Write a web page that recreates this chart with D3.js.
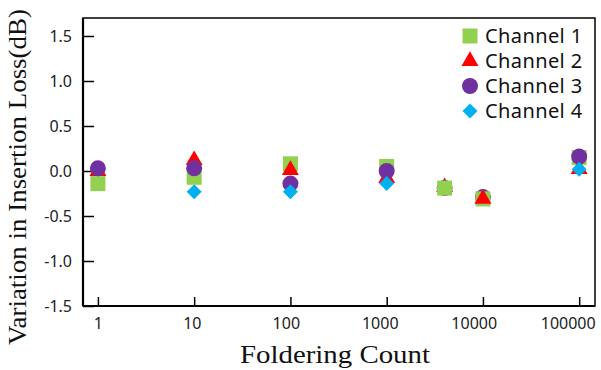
<!DOCTYPE html>
<html>
<head>
<meta charset="utf-8">
<script src="https://cdn.jsdelivr.net/npm/d3@7"></script>
<style>
  html, body { margin: 0; padding: 0; background: #fff; }
  svg { display: block; }
</style>
</head>
<body>
<div id="chart"></div>
<script>
// Folding counts (x positions) and insertion loss variation per channel
const counts = [1, 10, 100, 1000, 4000, 10000, 100000];
const channel1 = [-0.14, -0.07, 0.08, 0.05, -0.19, -0.31, 0.15];
const channel2 = [0.00, 0.12, 0.01, -0.08, -0.18, -0.31, 0.02];
const channel3 = [0.03, 0.03, -0.14, 0.00, -0.19, -0.29, 0.16];
const channel4 = [-0.13, -0.23, -0.23, -0.14, -0.19, -0.30, 0.02];
const seriesNames = ['Channel 1', 'Channel 2', 'Channel 3', 'Channel 4'];
const xTicks = [1, 10, 100, 1000, 10000, 100000];
const yTicks = [-1.5, -1.0, -0.5, 0.0, 0.5, 1.0, 1.5];

// which channel is painted over which, per folding count (bottom -> top)
const layerOrder = [
  [3, 0, 1, 2], [3, 1, 0, 2], [0, 1, 2, 3], [0, 1, 2, 3],
  [1, 2, 3, 0], [2, 3, 0, 1], [0, 1, 2, 3]
];

const colors = ['#92d050', '#ff0000', '#7030a0', '#00b0f0'];
const symbols = [
  { type: d3.symbolSquare, size: 225, rot: 0 },
  { type: d3.symbolTriangle, size: 125, rot: 0 },
  { type: d3.symbolCircle, size: 201, rot: 0 },
  { type: d3.symbolSquare, size: 112, rot: 45 }
];

const width = 601, height = 370;
const margin = { top: 18, right: 6, bottom: 64, left: 83 };
const innerW = width - margin.left - margin.right;
const innerH = height - margin.top - margin.bottom;

const x = d3.scaleLog().domain([0.7, 146000]).range([0, innerW]);
const y = d3.scaleLinear().domain([-1.5, 1.7]).range([innerH, 0]);

const svg = d3.select('#chart').append('svg')
  .attr('width', width)
  .attr('height', height);

const g = svg.append('g')
  .attr('transform', `translate(${margin.left}, ${margin.top})`);

// frame (top and right)
g.append('rect')
  .attr('x', 0).attr('y', 0)
  .attr('width', innerW).attr('height', innerH)
  .attr('fill', 'none')
  .attr('stroke', '#000')
  .attr('stroke-width', 1.5);

const tickFont = '"Noto Sans", "Open Sans", sans-serif';
const titleFont = '"Liberation Serif", "Times New Roman", serif';

const xAxis = g.append('g')
  .attr('transform', `translate(0, ${innerH})`)
  .call(d3.axisBottom(x).tickValues(xTicks).tickFormat(d3.format('d'))
    .tickSizeInner(-9).tickSizeOuter(0).tickPadding(12));

const yAxis = g.append('g')
  .call(d3.axisLeft(y).tickValues(yTicks).tickFormat(d => d.toFixed(1))
    .tickSizeInner(-11).tickSizeOuter(0).tickPadding(11));

[xAxis, yAxis].forEach(a => {
  a.select('.domain').attr('stroke', '#000').attr('stroke-width', 2.2);
  a.selectAll('.tick line').attr('stroke', '#000').attr('stroke-width', 1.5);
  a.selectAll('.tick text')
    .attr('fill', '#222')
    .style('font-family', tickFont)
    .style('font-size', '16px');
});
// wide labels sit a little left of their tick, as in the original
xAxis.selectAll('.tick text')
  .attr('dx', d => -(String(d).length - 1) * 2.3);

yAxis.select('.domain').attr('d', `M0,0V${innerH}`);
xAxis.select('.domain').attr('d', `M0,0H${innerW}`);

// axis titles
svg.append('text')
  .attr('x', 335)
  .attr('y', 363)
  .attr('text-anchor', 'middle')
  .attr('textLength', 190)
  .attr('lengthAdjust', 'spacingAndGlyphs')
  .style('font-family', titleFont)
  .style('font-size', '26px')
  .attr('fill', '#111')
  .text('Foldering Count');

svg.append('text')
  .attr('transform', 'translate(26, 177) rotate(-90)')
  .attr('text-anchor', 'middle')
  .attr('textLength', 336)
  .attr('lengthAdjust', 'spacingAndGlyphs')
  .style('font-family', titleFont)
  .style('font-size', '26px')
  .attr('fill', '#111')
  .text('Variation in Insertion Loss(dB)');

// points, painted in the per-count layer order
const allSeries = [channel1, channel2, channel3, channel4];
const points = [];
counts.forEach((c, k) => {
  layerOrder[k].forEach(i => points.push({ c, v: allSeries[i][k], s: i }));
});

g.append('g').selectAll('path')
  .data(points)
  .enter().append('path')
  .attr('d', d => d3.symbol().type(symbols[d.s].type).size(symbols[d.s].size)())
  .attr('fill', d => colors[d.s])
  .attr('transform', d => `translate(${x(d.c)}, ${y(d.v)}) rotate(${symbols[d.s].rot})`);

// legend
const legend = svg.append('g').attr('transform', 'translate(470, 36)');
seriesNames.forEach((name, i) => {
  const s = symbols[i];
  const row = legend.append('g').attr('transform', `translate(0, ${i * 25})`);
  row.append('path')
    .attr('d', d3.symbol().type(s.type).size(s.size)())
    .attr('fill', colors[i])
    .attr('transform', `rotate(${s.rot})`);
  row.append('text')
    .attr('x', 15)
    .attr('y', 0)
    .attr('dy', '0.36em')
    .style('font-family', tickFont)
    .style('font-size', '20px')
    .style('letter-spacing', '0.4px')
    .attr('fill', '#111')
    .text(name);
});
</script>
</body>
</html>
